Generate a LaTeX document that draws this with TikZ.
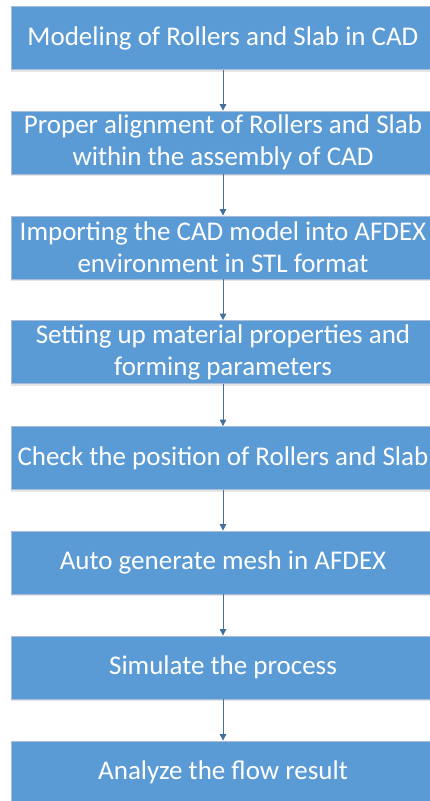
\documentclass[tikz,border=0pt]{standalone}
\usepackage{fontspec}
\setmainfont{Carlito}
\usetikzlibrary{arrows.meta,shadows}
\definecolor{boxblue}{HTML}{5B9BD5}
\definecolor{boxedge}{HTML}{A9BED6}
\definecolor{arrowblue}{HTML}{41719C}
\tikzset{
  stepbox/.style={rectangle, fill=boxblue, draw=boxedge, line width=0.8pt,
    minimum width=424pt, minimum height=63pt, inner sep=0pt,
    text=white, align=center, font=\fontsize{27}{32}\selectfont,
    drop shadow={shadow xshift=0pt, shadow yshift=-2pt, opacity=0.2, fill=gray}},
  flow/.style={draw=arrowblue, line width=0.9pt, -{Triangle[width=6.5pt,length=6.5pt]}}
}
\begin{document}
\begin{tikzpicture}[x=1pt,y=-1pt]
\useasboundingbox (0,0) rectangle (430,801);
\clip (0,0) rectangle (430,801);
\node[stepbox] (s1) at (223,38) {Modeling of Rollers and Slab in CAD};
\node[stepbox] (s2) at (223,142.5) {Proper alignment of Rollers and Slab\\within the assembly of CAD};
\node[stepbox] (s3) at (223,247.5) {Importing the CAD model into AFDEX\\environment in STL format};
\node[stepbox] (s4) at (223,352) {Setting up material properties and\\forming parameters};
\node[stepbox] (s5) at (223,458) {Check the position of Rollers and Slab};
\node[stepbox] (s6) at (223,562.5) {Auto generate mesh in AFDEX};
\node[stepbox] (s7) at (223,667.5) {Simulate the process};
\node[stepbox] (s8) at (223,772.5) {Analyze the flow result};
\foreach \a/\b in {s1/s2,s2/s3,s3/s4,s4/s5,s5/s6,s6/s7,s7/s8}
  \draw[flow] (\a.south) -- (\b.north);
\end{tikzpicture}
\end{document}
